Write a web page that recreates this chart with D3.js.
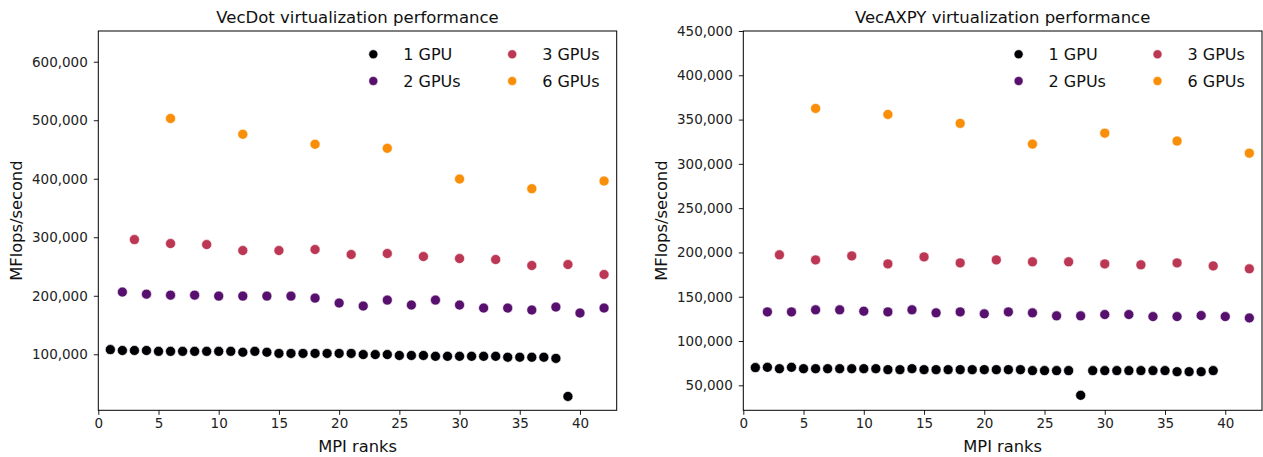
<!DOCTYPE html>
<html>
<head>
<meta charset="utf-8">
<script src="https://cdn.jsdelivr.net/npm/d3@7"></script>
<style>
  body { margin: 0; background: #fff; }
  svg { font-family: "DejaVu Sans", sans-serif; display: block; }
</style>
</head>
<body>
<div id="chart"></div>
<script>
// series labels and colours (inferno palette)
const seriesNames = ["1 GPU", "2 GPUs", "3 GPUs", "6 GPUs"];
const seriesColors = ["#000004", "#57106e", "#bc3754", "#f98e09"];
const xTicks = [0, 5, 10, 15, 20, 25, 30, 35, 40];

// MPI ranks for each series
const ranks1 = d3.range(1, 40);
const ranks2 = d3.range(2, 43, 2);
const ranks3 = d3.range(3, 43, 3);
const ranks6 = d3.range(6, 43, 6);

// VecDot, MFlops/second
const dot1 = [108000, 106500, 106500, 106500, 105000, 105000, 105000, 105000, 105000, 105000,
  105000, 103500, 105000, 103500, 101500, 101500, 101500, 101500, 101500, 101500,
  101500, 99500, 99500, 99500, 98000, 98000, 98000, 96500, 96500, 96500,
  96500, 96500, 96500, 95000, 95000, 95000, 95000, 93000, 28000];
const dot2 = [206300, 202800, 201100, 201100, 199400, 199400, 199400, 199400, 196000, 187500,
  182400, 192600, 184100, 192600, 184100, 179000, 179000, 175600, 180700, 170500, 179000];
const dot3 = [296000, 289200, 287500, 277300, 277300, 279000, 270500, 272200, 267000, 263600,
  261900, 251700, 253400, 236400];
const dot6 = [503000, 476000, 459000, 452000, 399500, 383000, 396000];
const dotYTicks = [100000, 200000, 300000, 400000, 500000, 600000];

// VecAXPY, MFlops/second
const axpy1 = [70000, 70300, 68800, 70300, 68800, 68800, 68800, 68800, 68800, 68800,
  68800, 67700, 67700, 68800, 67700, 67700, 67700, 67700, 67700, 67700,
  67700, 67700, 67700, 66600, 66600, 66600, 66600, 38700, 66600, 66600,
  66600, 66600, 66600, 66600, 66600, 65400, 65400, 65400, 66600];
const axpy2 = [132900, 132900, 135200, 135200, 133700, 132900, 135200, 131800, 132900, 130700,
  132900, 131800, 128400, 128400, 129900, 129900, 127600, 127600, 128800, 127600, 126100];
const axpy3 = [197300, 191600, 196100, 187100, 195000, 188200, 191600, 189400, 189400, 187100,
  186000, 188200, 184800, 181500];
const axpy6 = [362600, 355800, 345700, 322300, 334700, 325700, 312100];
const axpyYTicks = [50000, 100000, 150000, 200000, 250000, 300000, 350000, 400000, 450000];

const width = 1263, height = 457;
const svg = d3.select("#chart").append("svg")
  .attr("width", width)
  .attr("height", height);

const fmt = d3.format(",");

function drawPanel({ left, right, yDomain, yTicks, title, series }) {
  const top = 31, bottom = 410.3;
  const x = d3.scaleLinear().domain([0, 43.05]).range([left, right]);
  const y = d3.scaleLinear().domain(yDomain).range([bottom, top]);
  const g = svg.append("g");

  // axes
  const xAxis = g.append("g")
    .attr("transform", `translate(0,${bottom})`)
    .call(d3.axisBottom(x).tickValues(xTicks).tickSize(4.5).tickPadding(4));
  const yAxis = g.append("g")
    .attr("transform", `translate(${left},0)`)
    .call(d3.axisLeft(y).tickValues(yTicks).tickFormat(fmt).tickSize(4.5).tickPadding(6));
  [xAxis, yAxis].forEach(a => {
    a.select(".domain").remove();
    a.selectAll("line").attr("stroke", "#000").attr("stroke-width", 0.9);
    a.selectAll("text").attr("font-size", 13.5).attr("fill", "#222")
      .attr("font-family", "DejaVu Sans, sans-serif");
  });

  // points
  series.forEach((s, i) => {
    g.append("g").selectAll("circle")
      .data(d3.zip(s.ranks, s.values))
      .join("circle")
      .attr("cx", d => x(d[0]))
      .attr("cy", d => y(d[1]))
      .attr("r", 5)
      .attr("fill", seriesColors[i])
      .attr("stroke", "#fff")
      .attr("stroke-width", 0.6);
  });

  // frame
  g.append("rect")
    .attr("x", left).attr("y", top)
    .attr("width", right - left).attr("height", bottom - top)
    .attr("fill", "none").attr("stroke", "#000").attr("stroke-width", 1);

  // title and labels
  g.append("text")
    .attr("x", (left + right) / 2).attr("y", 22.5)
    .attr("text-anchor", "middle").attr("font-size", 16.5).attr("fill", "#111")
    .text(title);
  g.append("text")
    .attr("x", (left + right) / 2).attr("y", 452)
    .attr("text-anchor", "middle").attr("font-size", 16.3).attr("fill", "#111")
    .text("MPI ranks");
  g.append("text")
    .attr("transform", `translate(${left - 76},${(top + bottom) / 2}) rotate(-90)`)
    .attr("text-anchor", "middle").attr("font-size", 16.3).attr("fill", "#111")
    .text("MFlops/second");

  // legend, two columns
  const cols = [right - 243.4, right - 104.5];
  const rows = [top + 23.3, top + 50];
  seriesNames.forEach((name, i) => {
    const cx = cols[Math.floor(i / 2)], cy = rows[i % 2];
    g.append("circle")
      .attr("cx", cx).attr("cy", cy).attr("r", 4.5)
      .attr("fill", seriesColors[i]).attr("stroke", "#fff").attr("stroke-width", 0.5);
    g.append("text")
      .attr("x", cx + 30).attr("y", cy).attr("dy", "0.36em")
      .attr("font-size", 16).attr("fill", "#111")
      .text(name);
  });
}

drawPanel({
  left: 98.3, right: 616.7,
  yDomain: [4270, 652500],
  yTicks: dotYTicks,
  title: "VecDot virtualization performance",
  series: [
    { ranks: ranks1, values: dot1 },
    { ranks: ranks2, values: dot2 },
    { ranks: ranks3, values: dot3 },
    { ranks: ranks6, values: dot6 }
  ]
});

drawPanel({
  left: 743.3, right: 1262,
  yDomain: [21800, 450000],
  yTicks: axpyYTicks,
  title: "VecAXPY virtualization performance",
  series: [
    { ranks: ranks1, values: axpy1 },
    { ranks: ranks2, values: axpy2 },
    { ranks: ranks3, values: axpy3 },
    { ranks: ranks6, values: axpy6 }
  ]
});
</script>
</body>
</html>
